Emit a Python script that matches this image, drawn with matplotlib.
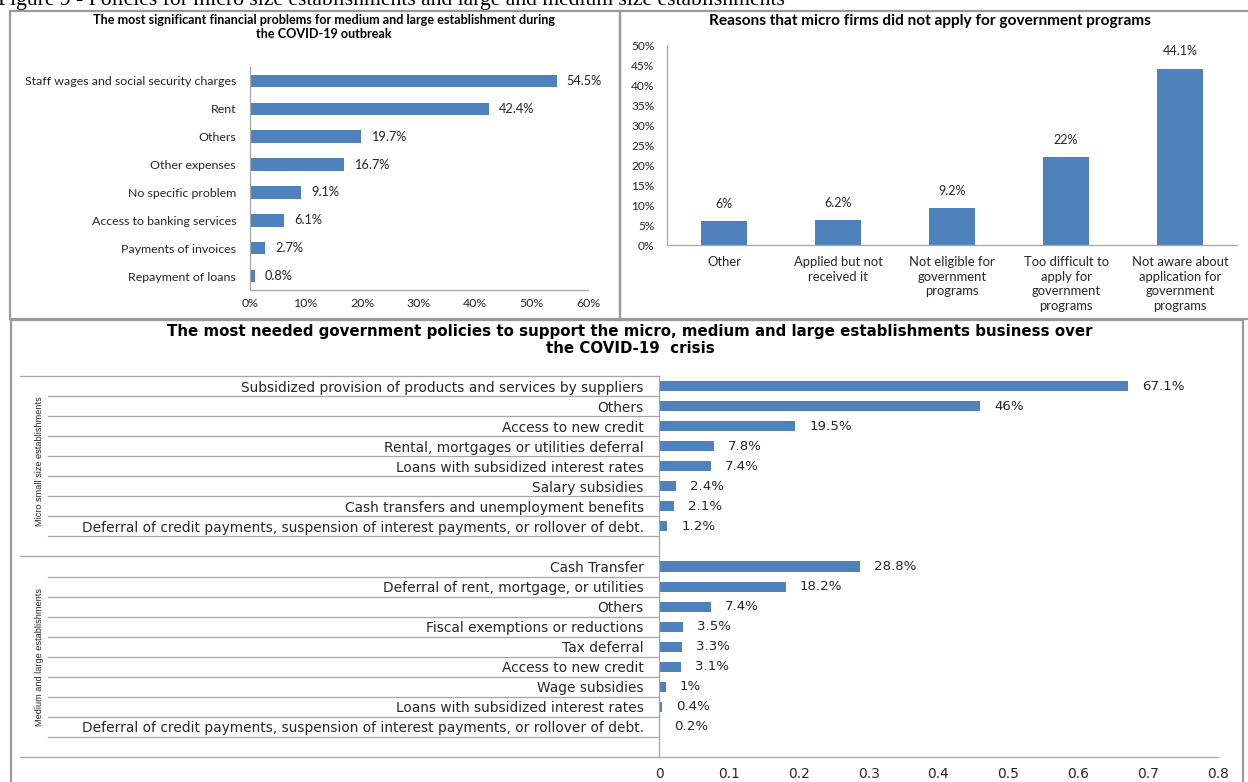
import matplotlib.pyplot as plt
from matplotlib.patches import Rectangle
from matplotlib.lines import Line2D
from matplotlib.ticker import PercentFormatter
from matplotlib.transforms import blended_transform_factory

W, H = 1248, 782
BLUE = '#4f81bd'
GRID = '#a6a6a6'
TXT = '#262626'
SANS = ['Lato', 'DejaVu Sans']
WIDE = ['DejaVu Sans']
NARROW = ['Liberation Sans Narrow', 'Liberation Sans', 'DejaVu Sans']

caption = ('Figure 9 - Policies for micro size establishments and large '
           'and medium size establishments')

# financial problems, medium and large establishments
problem_labels = ['Staff wages and social security charges', 'Rent', 'Others',
                  'Other expenses', 'No specific problem',
                  'Access to banking services', 'Payments of invoices',
                  'Repayment of loans']
problem_values = [54.5, 42.4, 19.7, 16.7, 9.1, 6.1, 2.7, 0.8]
problem_ticks = [0, 10, 20, 30, 40, 50, 60]

# reasons micro firms did not apply
reason_labels = ['Other', 'Applied but not\nreceived it',
                 'Not eligible for\ngovernment\nprograms',
                 'Too difficult to\napply for\ngovernment\nprograms',
                 'Not aware about\napplication for\ngovernment\nprograms']
reason_values = [6, 6.2, 9.2, 22, 44.1]
reason_ticks = [0, 5, 10, 15, 20, 25, 30, 35, 40, 45, 50]

# most needed policies, two groups
micro_group = 'Micro small size establishments'
micro_labels = ['Subsidized provision of products and services by suppliers',
                'Others', 'Access to new credit',
                'Rental, mortgages or utilities deferral',
                'Loans with subsidized interest rates', 'Salary subsidies',
                'Cash transfers and unemployment benefits',
                'Deferral of credit payments, suspension of interest payments, or rollover of debt.']
micro_values = [67.1, 46, 19.5, 7.8, 7.4, 2.4, 2.1, 1.2]

large_group = 'Medium and large establishments'
large_labels = ['Cash Transfer', 'Deferral of rent, mortgage, or utilities',
                'Others', 'Fiscal exemptions or reductions', 'Tax deferral',
                'Access to new credit', 'Wage subsidies',
                'Loans with subsidized interest rates',
                'Deferral of credit payments, suspension of interest payments, or rollover of debt.']
large_values = [28.8, 18.2, 7.4, 3.5, 3.3, 3.1, 1, 0.4, 0.2]
policy_ticks = [0, 0.1, 0.2, 0.3, 0.4, 0.5, 0.6, 0.7, 0.8]
policy_tick_labels = ['0', '0.1', '0.2', '0.3', '0.4', '0.5', '0.6', '0.7', '0.8']

fig = plt.figure(figsize=(W / 100, H / 100), dpi=100)


def fx(px):
    return px / W


def fy(py):
    return 1 - py / H


def axes_px(x0, y0, x1, y1):
    return fig.add_axes([fx(x0), fy(y1), (x1 - x0) / W, (y1 - y0) / H])


def box(x0, y0, x1, y1):
    fig.add_artist(Rectangle((fx(x0), fy(y1)), (x1 - x0) / W, (y1 - y0) / H,
                             transform=fig.transFigure, fill=False,
                             ec='#9a9a9a', lw=1.6))


def style(ax):
    for s in ['top', 'right']:
        ax.spines[s].set_visible(False)
    for s in ['left', 'bottom']:
        ax.spines[s].set_color(GRID)
        ax.spines[s].set_linewidth(0.9)
    ax.tick_params(length=0, colors=TXT)


fig.text(-0.002, fy(5), caption, va='baseline', ha='left',
         family='Liberation Serif', fontsize=15.6)

box(10, 11, 620, 319)
box(620, 11, 1260, 319)
box(11, 320, 1243, 800)

# --- top left: horizontal bars
ax1 = axes_px(250, 67, 588, 290)
style(ax1)
pos1 = list(range(len(problem_values)))
bars1 = ax1.barh(pos1, problem_values, height=0.45, color=BLUE)
ax1.bar_label(bars1, labels=[f'{v:g}%' for v in problem_values], padding=7,
              family=SANS, fontsize=9.2, color=TXT)
ax1.set_ylim(len(pos1) - 0.5, -0.5)
ax1.set_xlim(0, 60)
ax1.set_xticks(problem_ticks)
ax1.xaxis.set_major_formatter(PercentFormatter(100, decimals=0))
ax1.set_yticks(pos1, problem_labels)
ax1.tick_params(axis='y', pad=10)
ax1.tick_params(axis='x', pad=6)
for t in ax1.get_xticklabels() + ax1.get_yticklabels():
    t.set_family(SANS)
    t.set_fontsize(8.9)
fig.text(fx(324), fy(27), 'The most significant financial problems for medium and large establishment during\nthe COVID-19 outbreak',
         ha='center', va='center', family=SANS, fontweight='bold',
         fontsize=9.1, linespacing=1.3)

# --- top right: vertical bars
ax2 = axes_px(667, 45, 1237, 245)
style(ax2)
pos2 = list(range(len(reason_values)))
bars2 = ax2.bar(pos2, reason_values, width=0.4, color=BLUE)
ax2.bar_label(bars2, labels=[f'{v:g}%' for v in reason_values], padding=8,
              family=SANS, fontsize=9, color=TXT)
ax2.set_xlim(-0.5, len(pos2) - 0.5)
ax2.set_ylim(0, 50)
ax2.set_yticks(reason_ticks)
ax2.yaxis.set_major_formatter(PercentFormatter(100, decimals=0))
ax2.set_xticks(pos2, reason_labels)
ax2.tick_params(axis='y', pad=9)
ax2.tick_params(axis='x', pad=8)
for t in ax2.get_yticklabels():
    t.set_family(SANS)
    t.set_fontsize(8.6)
for t in ax2.get_xticklabels():
    t.set_family(SANS)
    t.set_fontsize(9.4)
    t.set_linespacing(1.25)
fig.text(fx(930), fy(21), 'Reasons that micro firms did not apply for government programs',
         ha='center', va='center', family=SANS, fontweight='bold', fontsize=11.1)

# --- bottom: grouped horizontal bars
ax3 = axes_px(659, 376, 1218, 757)
style(ax3)
micro_pos = list(range(len(micro_values)))
large_start = len(micro_values) + 1
large_pos = [large_start + i for i in range(len(large_values))]
n_slots = large_pos[-1] + 2

for p, vals in [(micro_pos, micro_values), (large_pos, large_values)]:
    bars = ax3.barh(p, [v / 100 for v in vals], height=0.5, color=BLUE)
    ax3.bar_label(bars, labels=[f'{v:g}%' for v in vals], padding=10,
                  family=WIDE, fontsize=9.6, color=TXT)

ax3.set_yticks(micro_pos + large_pos, micro_labels + large_labels)
ax3.set_xticks(policy_ticks, policy_tick_labels)
ax3.tick_params(axis='y', pad=11)
ax3.tick_params(axis='x', pad=7)
for t in ax3.get_xticklabels() + ax3.get_yticklabels():
    t.set_family(WIDE)
    t.set_fontsize(9.9)

# category separators and group boundaries to the left of the axis
blend = blended_transform_factory(fig.transFigure, ax3.transData)
for p in micro_pos + large_pos:
    ax3.add_line(Line2D([fx(48), fx(659)], [p + 0.5, p + 0.5], transform=blend,
                        color=GRID, lw=0.9, clip_on=False))
for yb in [-0.5, large_start - 0.5, n_slots - 0.5]:
    ax3.add_line(Line2D([fx(20), fx(659)], [yb, yb], transform=blend,
                        color=GRID, lw=0.9, clip_on=False))
ax3.text(fx(40), (len(micro_values) - 0.5) / 2, micro_group, transform=blend,
         rotation=90, ha='center', va='center', family=NARROW, fontsize=6.6,
         color=TXT)
ax3.text(fx(40), large_start - 0.5 + (len(large_values) + 1) / 2, large_group,
         transform=blend, rotation=90, ha='center', va='center',
         family=NARROW, fontsize=6.6, color=TXT)
ax3.set_ylim(n_slots - 0.5, -0.5)
ax3.set_xlim(0, 0.8)

fig.text(fx(630), fy(340), 'The most needed government policies to support the micro, medium and large establishments business over\nthe COVID-19  crisis',
         ha='center', va='center', family=WIDE, fontweight='bold',
         fontsize=10.8, linespacing=1.2)

fig.savefig('out.png', dpi=100, facecolor='white')
